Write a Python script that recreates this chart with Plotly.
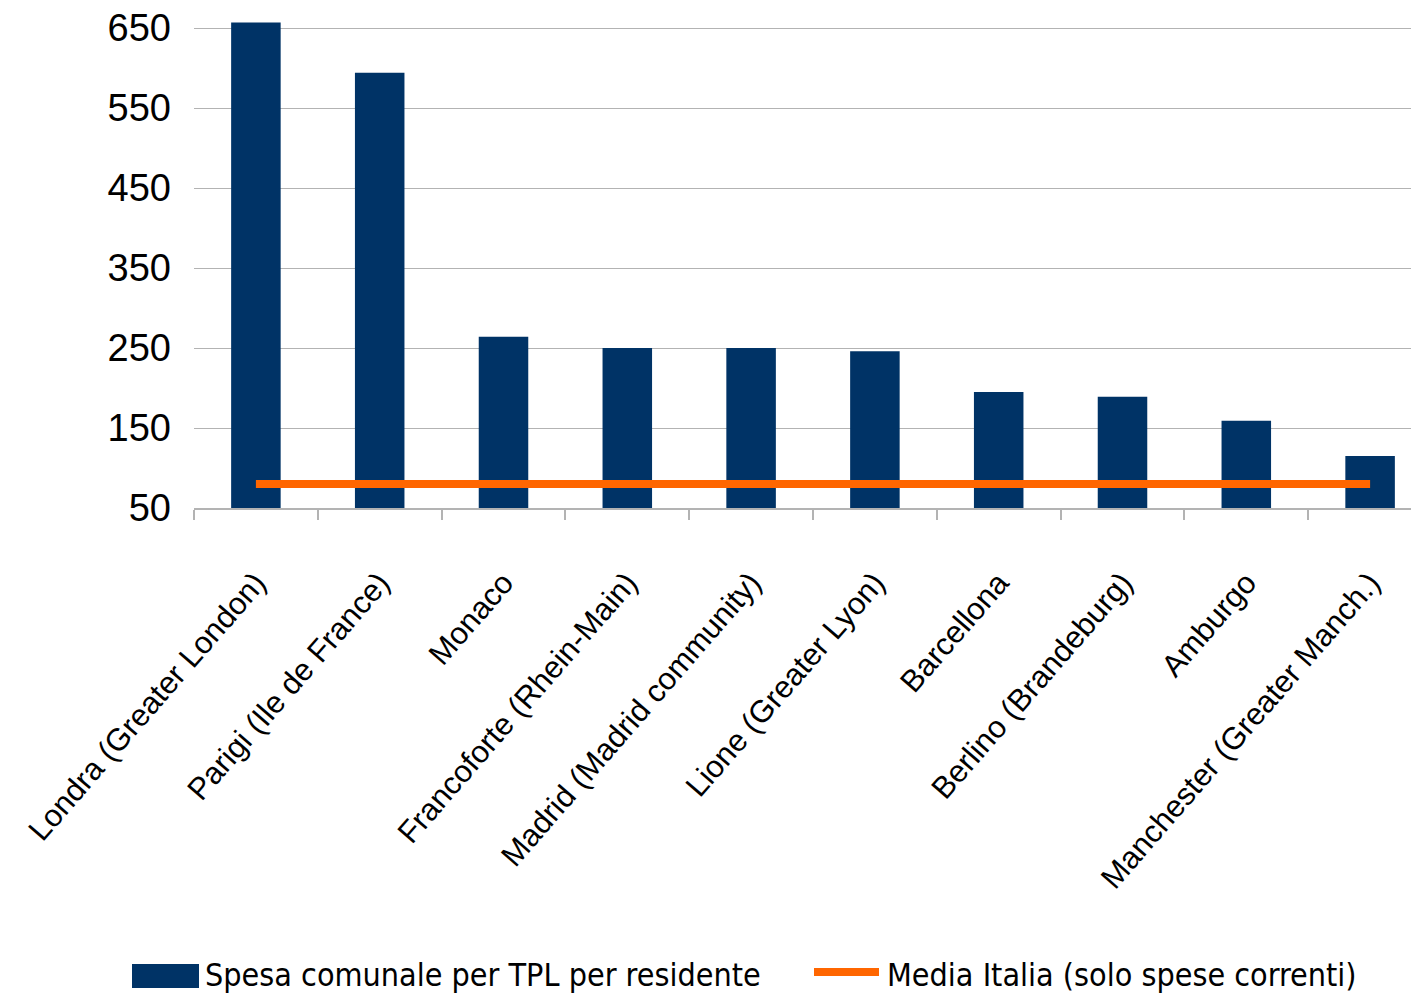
import plotly.graph_objects as go

categories = ["Londra (Greater London)", "Parigi (Ile de France)", "Monaco",
              "Francoforte (Rhein-Main)", "Madrid (Madrid community)",
              "Lione (Greater Lyon)", "Barcellona", "Berlino (Brandeburg)",
              "Amburgo", "Manchester (Greater Manch.)"]
spesa = [657, 594, 264, 250, 250, 246, 195, 189, 159, 115]
media_italia = [80, 80, 80, 80, 80, 80, 80, 80, 80, 80]
y_ticks = [50, 150, 250, 350, 450, 550, 650]
legend_names = ["Spesa comunale per TPL per residente", "Media Italia (solo spese correnti)"]

BAR_COLOR = "#003366"
LINE_COLOR = "#FF6600"

fig = go.Figure()
fig.add_trace(go.Bar(x=categories, y=spesa, name=legend_names[0],
                     marker=dict(color=BAR_COLOR, line=dict(width=0)), width=0.4,
                     showlegend=False))
fig.add_trace(go.Scatter(x=categories, y=media_italia, mode="lines",
                         name=legend_names[1], showlegend=False,
                         line=dict(color=LINE_COLOR, width=8)))

# plot area in screen pixels (page has 8px body margin)
PX0, PX1, PY0, PY1 = 194, 1419, 8, 508
def px(x):
    return (x - PX0) / (PX1 - PX0)
def py(y):
    return (PY1 - y) / (PY1 - PY0)

shapes = [
    dict(type="rect", xref="paper", yref="paper", x0=px(132), x1=px(199),
         y0=py(988), y1=py(964), fillcolor=BAR_COLOR, line=dict(width=0)),
    dict(type="line", xref="paper", yref="paper", x0=px(814), x1=px(879),
         y0=py(972), y1=py(972), line=dict(color=LINE_COLOR, width=8)),
]
annotations = [
    dict(text=legend_names[0], xref="paper", yref="paper", x=px(203), y=py(975),
         xanchor="left", yanchor="middle", showarrow=False,
         font=dict(family="DejaVu Sans Condensed", size=32, color="black")),
    dict(text=legend_names[1], xref="paper", yref="paper", x=px(885), y=py(975),
         xanchor="left", yanchor="middle", showarrow=False,
         font=dict(family="DejaVu Sans Condensed", size=32, color="black")),
]

fig.update_layout(
    width=1411, height=985,
    margin=dict(l=186, r=0, t=0, b=485),
    plot_bgcolor="white", paper_bgcolor="white",
    font=dict(family="Liberation Sans", color="black"),
    showlegend=False,
    shapes=shapes, annotations=annotations,
)
fig.update_yaxes(range=[50, 675], tickvals=y_ticks, showgrid=True, gridcolor="#b3b3b3",
                 gridwidth=1, zeroline=False, showline=False, ticklabeloverflow="allow",
                 tickfont=dict(size=38, family="Liberation Sans"), ticks="", ticklabelstandoff=22)
fig.update_xaxes(range=[-0.5, 9.395], showgrid=False, showline=True, linecolor="#b3b3b3",
                 linewidth=2, ticks="outside", tickson="boundaries", ticklen=10,
                 tickcolor="#b3b3b3", tickwidth=2, tickangle=-49, ticklabeloverflow="allow",
                 tickfont=dict(size=31, family="Liberation Sans"), ticklabelstandoff=42)

fig.write_html("out.html")
